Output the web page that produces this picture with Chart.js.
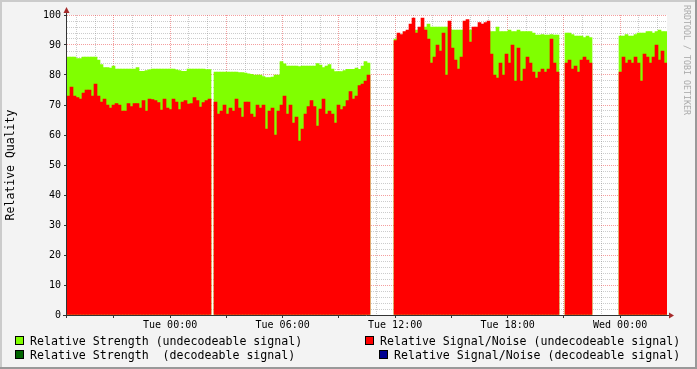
<!DOCTYPE html>
<html>
<head>
<meta charset="utf-8">
<script src="https://cdn.jsdelivr.net/npm/chart.js@4.4.0/dist/chart.umd.min.js"></script>
<style>
  body { margin: 0; background: #f3f3f3; }
  #wrap { position: relative; width: 697px; height: 369px; overflow: hidden; font-family: 'DejaVu Sans Mono', monospace; }
  canvas { position: absolute; left: 0; top: 0; }
  .item { position: absolute; font-size: 11.6px; line-height: 14px; white-space: pre; color: #000; }
  .box { position: absolute; width: 9px; height: 9px; box-sizing: border-box; border: 1px solid #000; }
  #mark { position: absolute; left: 691px; top: 5px; transform-origin: 0 0; transform: rotate(90deg);
          font-size: 8.3px; line-height: 8px; color: #aaa; white-space: pre; }
</style>
</head>
<body>
<div id="wrap">
  <canvas id="chart" width="697" height="369"></canvas>
  <div id="legend"></div>
  <div id="mark">RRDTOOL / TOBI OETIKER</div>
</div>
<script>
// hours relative to Tue 00:00, one sample every 9.6 minutes
const startHour = -5.5;
const endHour = 26.5;
const stepHours = 0.16;

const signalNoise = [
  73, 76, 73, 72.5, 72, 74, 75, 75, 73, 77,
  73, 71, 72, 70, 69, 70, 70.5, 70, 68, 68,
  70.5, 69.5, 70.5, 70.5, 69, 71.5, 68, 72, 71.8, 71.5,
  70.8, 68.3, 72, 69, 68.5, 72, 71, 68.5, 71, 71.5,
  70.3, 70.5, 72.5, 71.5, 69.3, 70.8, 71.5, 72, null, 71,
  67, 68, 70, 67, 69, 68, 72, 69, 66, 71,
  71, 67, 66, 70, 69, 70, 62, 68, 69, 60,
  68, 70, 73, 67, 70, 64, 66, 58, 62, 67,
  69.5, 71.5, 69.5, 63, 68.6, 72, 67, 68, 67, 64,
  70, 68.5, 69.5, 71.5, 74.5, 72, 73, 76.5, 77, 78,
  80, null, null, null, null, null, null, null, null, 91.5,
  94, 93.5, 94.5, 95, 97, 99, 94, 96, 99, 95,
  92, 84, 86, 90, 88, 94, 80, 98, 89, 85,
  82, 86, 98, 98.5, 91, 96, 96, 97.5, 97, 97.5,
  98, 87, 80, 79, 84, 80, 87, 84, 90, 78,
  89, 78, 82, 86, 84, 81, 79, 81, 82, 81,
  82, 92, 84, 81, null, null, 84, 85, 82, 83,
  81, 85, 86, 85, 84, null, null, null, null, null,
  null, null, null, null, 81, 86, 84, 85, 84, 86,
  84, 78, 87, 86, 84, 86, 90, 85, 88, 84
];

const strength = [
  86, 86, 86, 85.5, 85.5, 86, 86, 86, 86, 86,
  85, 83.5, 82.5, 82.5, 82.3, 83, 82, 82, 82, 82,
  82, 82, 82, 82.5, 81.2, 81.2, 81.5, 81.7, 82, 82,
  82, 82, 82, 82, 82, 82, 81.7, 81.5, 81.2, 81.2,
  82, 82, 82, 82, 82, 82, 81.8, 81.8, null, 81,
  81, 81, 81, 81, 81, 81, 81, 80.8, 80.8, 80.6,
  80.4, 80.2, 80, 80, 80, 79.5, 79.1, 79.1, 79.3, 80,
  80, 84.5, 83.7, 83, 83, 83, 83, 82.8, 83, 83,
  83, 83, 83, 83.8, 83.3, 82.5, 83, 83.5, 82, 81.1,
  81.1, 81.1, 81.5, 81.9, 81.9, 81.9, 82.3, 81.9, 83, 84.5,
  84, null, null, null, null, null, null, null, null, 92,
  93, 93, 94, 94, 95, 94, 95, 95, 95, 96,
  97, 96, 96, 96, 96, 96, 96, 96, 95, 95,
  95, 95, 95, 95, 95, 95, 95, 95, 95, 95,
  95, 94.5, 94.5, 96, 94.5, 94.5, 94.5, 95, 94.5, 94.5,
  95, 94.5, 94.5, 94.5, 94.5, 94, 93.3, 93.3, 93.5, 93.3,
  93.3, 93.5, 93.3, 93.3, null, null, 94, 94, 93.5, 93,
  93, 93, 92.5, 93, 92.5, null, null, null, null, null,
  null, null, null, null, 93, 93, 93.5, 93, 93, 93.5,
  94, 94, 94, 94.5, 94.5, 94, 94.5, 95, 94.5, 94.5
];

const timeTicks = [0, 6, 12, 18, 24];
const timeLabels = ['Tue 00:00', 'Tue 06:00', 'Tue 12:00', 'Tue 18:00', 'Wed 00:00'];

const legendItems = [
  { text: 'Relative Strength (undecodeable signal)', color: '#80ff00', left: 15, top: 336 },
  { text: 'Relative Strength  (decodeable signal)', color: '#006400', left: 15, top: 350 },
  { text: 'Relative Signal/Noise (undecodeable signal)', color: '#ff0000', left: 365, top: 336 },
  { text: 'Relative Signal/Noise (decodeable signal)', color: '#000090', left: 379, top: 350 }
];

const minorGrid = 'rgba(128,128,128,0.4)';
const majorGrid = 'rgba(230,40,40,0.45)';

const toPoints = values => values.map((v, i) => ({ x: startHour + (i + 0.5) * stepHours, y: v }));

const legend = document.getElementById('legend');
legendItems.forEach(({ text, color, left, top }) => {
  const box = document.createElement('div');
  box.className = 'box';
  box.style.left = left + 'px';
  box.style.top = top + 'px';
  box.style.background = color;
  legend.appendChild(box);
  const label = document.createElement('div');
  label.className = 'item';
  label.style.left = (left + 15) + 'px';
  label.style.top = (top - 2) + 'px';
  label.textContent = text;
  legend.appendChild(label);
});

const frame = {
  id: 'frame',
  beforeDraw(chart) {
    const { ctx, width, height, chartArea: a } = chart;
    ctx.save();
    ctx.fillStyle = '#f3f3f3';
    ctx.fillRect(0, 0, width, height);
    ctx.fillStyle = '#cbcbcb';
    ctx.fillRect(0, 0, width, 2);
    ctx.fillRect(0, 0, 2, height);
    ctx.fillStyle = '#999';
    ctx.fillRect(0, height - 2, width, 2);
    ctx.fillRect(width - 2, 0, 2, height);
    ctx.fillStyle = '#fff';
    ctx.fillRect(a.left, a.top, a.right - a.left, a.bottom - a.top);
    ctx.restore();
  },
  afterDraw(chart) {
    const { ctx, chartArea: a } = chart;
    ctx.save();
    ctx.strokeStyle = '#333';
    ctx.lineWidth = 1;
    ctx.beginPath();
    ctx.moveTo(a.left - 0.5, a.bottom + 3);
    ctx.lineTo(a.left - 0.5, a.top - 5);
    ctx.moveTo(a.left - 4, a.bottom + 0.5);
    ctx.lineTo(a.right + 3, a.bottom + 0.5);
    ctx.stroke();
    ctx.fillStyle = '#a52a2a';
    ctx.beginPath();
    ctx.moveTo(a.left - 0.5, a.top - 8);
    ctx.lineTo(a.left - 3.5, a.top - 2);
    ctx.lineTo(a.left + 2.5, a.top - 2);
    ctx.closePath();
    ctx.fill();
    ctx.beginPath();
    ctx.moveTo(a.right + 7, a.bottom + 0.5);
    ctx.lineTo(a.right + 2, a.bottom - 2.5);
    ctx.lineTo(a.right + 2, a.bottom + 3.5);
    ctx.closePath();
    ctx.fill();
    ctx.restore();
  }
};

Chart.defaults.font.family = "'DejaVu Sans Mono', monospace";
Chart.defaults.color = '#000';

new Chart(document.getElementById('chart'), {
  type: 'bar',
  data: {
    datasets: [
      {
        label: 'Relative Signal/Noise (undecodeable signal)',
        data: toPoints(signalNoise),
        backgroundColor: '#ff0000'
      },
      {
        label: 'Relative Strength (undecodeable signal)',
        data: toPoints(strength),
        backgroundColor: '#80ff00'
      }
    ]
  },
  options: {
    responsive: false,
    animation: false,
    events: [],
    devicePixelRatio: 1,
    layout: { padding: { top: 15, right: 30, left: 0, bottom: 0 } },
    datasets: {
      bar: { grouped: false, barPercentage: 1, categoryPercentage: 1, borderWidth: 0 }
    },
    plugins: { legend: { display: false }, tooltip: { enabled: false } },
    scales: {
      x: {
        type: 'linear',
        min: startHour,
        max: endHour,
        offset: false,
        z: 1,
        afterBuildTicks: scale => {
          const ticks = [];
          for (let h = Math.ceil(startHour); h <= Math.floor(endHour); h++) ticks.push({ value: h });
          scale.ticks = ticks;
        },
        afterFit: scale => { scale.height = 54; },
        grid: {
          offset: false,
          color: c => (c.tick && c.tick.value % 3 === 0 ? majorGrid : minorGrid),
          tickColor: c => (c.tick && c.tick.value % 3 === 0 ? '#333' : 'rgba(0,0,0,0)'),
          tickLength: 3
        },
        border: { display: false, dash: [1, 1] },
        ticks: {
          autoSkip: false,
          maxRotation: 0,
          padding: 1,
          font: { size: 10 },
          callback: v => {
            const k = timeTicks.indexOf(v);
            return k >= 0 ? timeLabels[k] : '';
          }
        }
      },
      y: {
        min: 0,
        max: 100,
        z: 1,
        afterFit: scale => { scale.width = 67; },
        grid: {
          color: c => (c.tick && c.tick.value % 10 === 0 ? majorGrid : minorGrid),
          tickColor: c => (c.tick && c.tick.value % 10 === 0 ? '#333' : 'rgba(0,0,0,0)'),
          tickLength: 3
        },
        border: { display: false, dash: [1, 1] },
        ticks: {
          stepSize: 2,
          autoSkip: false,
          padding: 3,
          font: { size: 10 },
          callback: v => (v % 10 === 0 ? v : '')
        },
        title: {
          display: true,
          text: 'Relative Quality',
          font: { size: 11.5 },
          padding: { top: 4, bottom: 0 }
        }
      }
    }
  },
  plugins: [frame]
});
</script>
</body>
</html>
